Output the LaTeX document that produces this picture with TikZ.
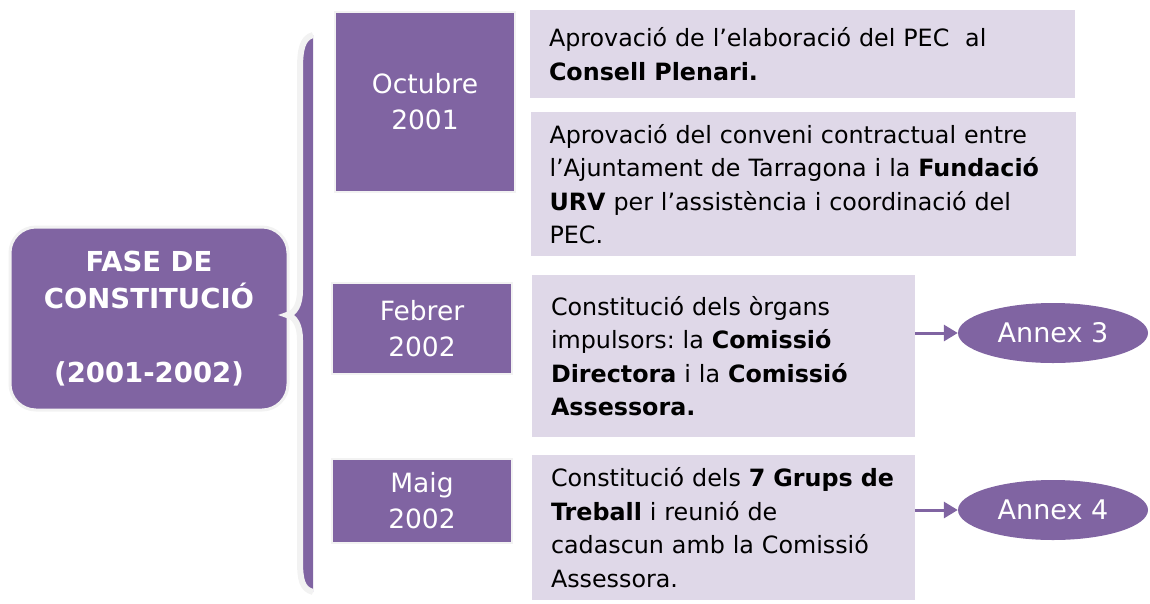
\documentclass[tikz,border=0pt]{standalone}
\usepackage{fontspec}
\setmainfont{DejaVu Sans}
\usetikzlibrary{shapes.geometric,arrows.meta}
\definecolor{phasepurple}{HTML}{8064A2}
\definecolor{phaselilac}{HTML}{DFD8E8}
\definecolor{edgegray}{HTML}{F2F2F2}
\frenchspacing

\begin{document}
\begin{tikzpicture}[x=1pt,y=-1pt,
  datebox/.style={draw=edgegray, line width=2pt, fill=phasepurple, text=white, align=center,
    font=\fontsize{26.5}{36}\selectfont, inner sep=0pt},
  notebox/.style={fill=phaselilac, text width=#1, align=left, inner xsep=19pt, inner ysep=0pt,
    font=\fontsize{23.8}{33.5}\selectfont},
  annexnode/.style={ellipse, fill=phasepurple, text=white, minimum width=190pt, minimum height=60pt,
    inner sep=0pt, font=\fontsize{27}{30}\selectfont},
  linkarrow/.style={draw=phasepurple, line width=3pt, -{Triangle[length=14pt,width=16pt]}}
]

\useasboundingbox (0,0) rectangle (1150,603);

% Phase
\node[draw=edgegray, line width=3pt, fill=phasepurple, rounded corners=26pt, text=white, align=center,
  minimum width=278pt, minimum height=183pt, font=\bfseries\fontsize{27.5}{37}\selectfont] (phase) at (149,318.5)
  {FASE DE\\CONSTITUCIÓ\\[37pt](2001-2002)};

% Brace
\coordinate (bracetip) at (287,315);
\fill[phasepurple] (313,35) .. controls (302,38) and (300,50) .. (300,70) -- (300,290)
  .. controls (300,305) and (295,313) .. (bracetip) .. controls (295,317) and (300,325) .. (300,340)
  -- (300,560) .. controls (300,580) and (302,589) .. (313,592) -- cycle;
\draw[edgegray, line width=6pt] (313,35) .. controls (302,38) and (300,50) .. (300,70) -- (300,290)
  .. controls (300,305) and (295,313) .. (bracetip) .. controls (295,317) and (300,325) .. (300,340)
  -- (300,560) .. controls (300,580) and (302,589) .. (313,592);

% Dates
\node[datebox, minimum width=180pt, minimum height=180pt] (octubre) at (425,102) {Octubre\\2001};
\node[datebox, minimum width=180pt, minimum height=91pt] (febrer) at (422,328.5) {Febrer\\2002};
\node[datebox, minimum width=180pt, minimum height=84pt] (maig) at (422,501) {Maig\\2002};

% Notes
\node[notebox=507pt, minimum height=88pt] (plenari) at (802.5,54)
  {Aprovació de l’elaboració del PEC\ \ al\\\textbf{Consell Plenari.}};
\node[notebox=507pt, minimum height=144pt] (conveni) at (803,184)
  {Aprovació del conveni contractual entre\\l’Ajuntament de Tarragona i la \textbf{Fundació}\\\textbf{URV} per l’assistència i coordinació del\\PEC.};
\node[notebox=345pt, minimum height=162pt] (organs) at (723.5,356)
  {Constitució dels òrgans\\impulsors: la \textbf{Comissió}\\\textbf{Directora} i la \textbf{Comissió}\\\textbf{Assessora.}\\[6pt]};
\node[notebox=345pt, minimum height=145pt] (grups) at (723.5,527.5)
  {Constitució dels \textbf{7 Grups de}\\\textbf{Treball} i reunió de\\cadascun amb la Comissió\\Assessora.};

% Annexes
\node[annexnode] (annex3) at (1053,333) {Annex 3};
\node[annexnode] (annex4) at (1053,510) {Annex 4};
\draw[linkarrow] (organs.east |- annex3) -- (annex3.west);
\draw[linkarrow] (grups.east |- annex4) -- (annex4.west);

\end{tikzpicture}
\end{document}
